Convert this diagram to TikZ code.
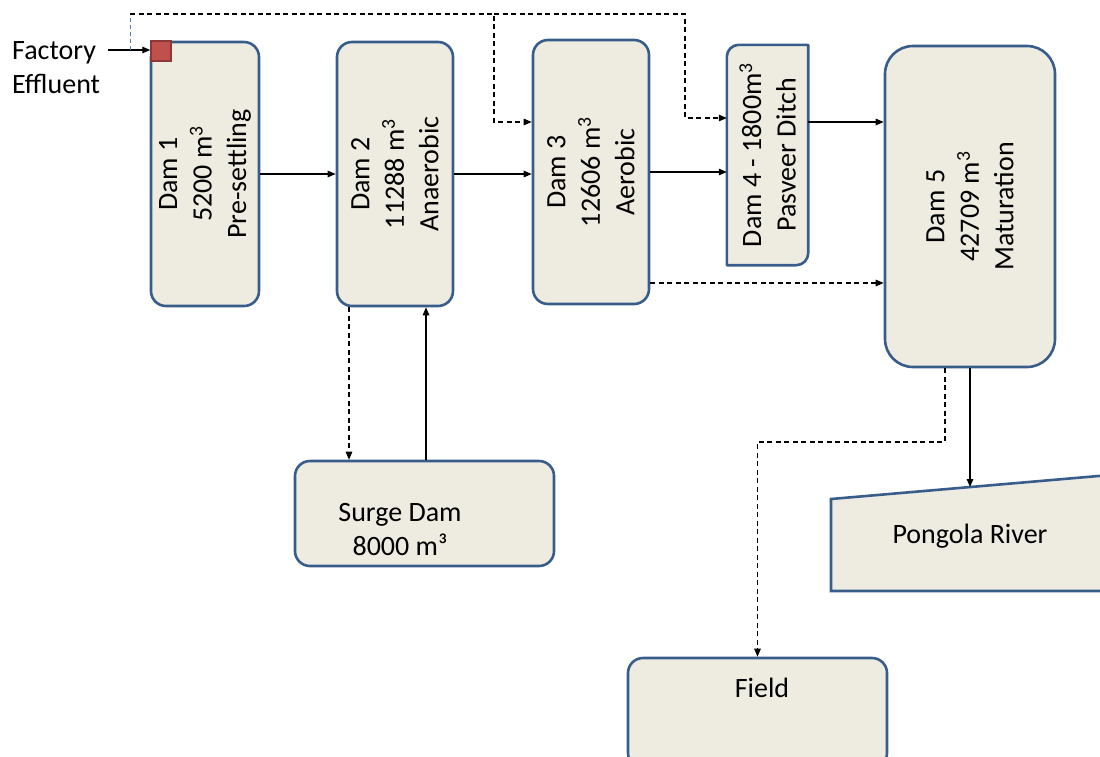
\documentclass[tikz,border=0pt]{standalone}
\usepackage{fontspec}
\setmainfont{Carlito}
\usetikzlibrary{arrows.meta,calc}
\definecolor{boxfill}{RGB}{238,236,225}
\definecolor{boxline}{RGB}{56,93,138}
\definecolor{redfill}{RGB}{192,80,77}
\definecolor{redline}{RGB}{140,56,54}
\definecolor{linkblue}{RGB}{79,129,189}
\begin{document}
\begin{tikzpicture}[x=1pt,y=-1pt,
  dambox/.style={draw=boxline, fill=boxfill, line width=2.6pt, rounded corners=15pt, inner sep=0pt},
  damtext/.style={rotate=90, align=center, inner sep=0pt, font=\fontsize{28}{34.5}\selectfont},
  lbl/.style={align=center, inner sep=0pt, font=\fontsize{28}{34}\selectfont},
  flow/.style={line width=1.2pt, -{Triangle[length=8pt,width=6.5pt]}},
  dflow/.style={flow, dash pattern=on 5pt off 3.5pt}]
\useasboundingbox (0,0) rectangle (1100,756);
\clip (0,0) rectangle (1100,756);

% boxes
\node[dambox, minimum width=108pt, minimum height=264pt] (d1) at (205,174) {};
\node[dambox, minimum width=116pt, minimum height=264pt] (d2) at (395,174) {};
\node[dambox, minimum width=116pt, minimum height=264pt] (d3) at (591,172) {};
\node[minimum width=81pt, minimum height=220pt, inner sep=0pt] (d4) at (767.5,155) {};
\draw[draw=boxline, fill=boxfill, line width=2.6pt, line join=round]
  (d4.north east) -- ([yshift=12pt]d4.south east)
  .. controls ([yshift=5.4pt]d4.south east) and ([xshift=-5.4pt]d4.south east) .. ([xshift=-12pt]d4.south east)
  -- (d4.south west) -- ([yshift=-12pt]d4.north west)
  .. controls ([yshift=-5.4pt]d4.north west) and ([xshift=5.4pt]d4.north west) .. ([xshift=12pt]d4.north west)
  -- cycle;
\node[dambox, rounded corners=28pt, minimum width=170pt, minimum height=321pt] (d5) at (970,206.5) {};
\node[dambox, minimum width=259pt, minimum height=105pt] (sd) at (424.5,513.5) {};
\node[dambox, minimum width=259pt, minimum height=110pt] (f) at (757.5,713) {};
\coordinate (pr0) at (831,499);
\coordinate (pr1) at (1110,475);
\coordinate (pr2) at (1110,591);
\coordinate (pr3) at (831,591);
\draw[draw=boxline, fill=boxfill, line width=2.6pt] (pr0) -- (pr1) -- (pr2) -- (pr3) -- cycle;
\node[draw=redline, fill=redfill, line width=1.5pt, minimum size=20pt, inner sep=0pt] (rs) at (161,51) {};

% texts
\node[damtext] (d1t) at (d1.center) {Dam 1\\5200 m\textsuperscript{3}\\Pre-settling};
\node[damtext] (d2t) at (d2.center) {Dam 2\\11288 m\textsuperscript{3}\\Anaerobic};
\node[damtext] (d3t) at (d3.center) {Dam 3\\12606 m\textsuperscript{3}\\Aerobic};
\node[damtext] (d4t) at (d4.center) {Dam 4 - 1800m\textsuperscript{3}\\Pasveer Ditch};
\node[damtext] (d5t) at (d5.center) {Dam 5\\42709 m\textsuperscript{3}\\Maturation};
\node[lbl] (sdt) at (400,530) {Surge Dam\\8000 m³};
\node[lbl] (prt) at (970,536) {Pongola River};
\node[lbl] (ft) at (762,688) {Field};
\node[lbl, align=left, anchor=west] (fe) at (12,68) {Factory\\Effluent};

% connectors
\coordinate (fa) at (108,50);
\draw[flow] (fa) -- (rs.west |- fa);
\coordinate (j0) at (130,50);
\coordinate (t0) at (130,14);
\coordinate (t1) at (494,14);
\coordinate (t2) at (685,14);
\coordinate (y122) at (0,122);
\coordinate (y118) at (0,118);
\coordinate (y283) at (0,283);
\coordinate (y442) at (0,442);
\coordinate (x349) at (349,0);
\coordinate (x426) at (426,0);
\coordinate (x945) at (945,0);
\coordinate (pr) at (970,487);
\draw[linkblue, line width=1pt, dash pattern=on 4pt off 3pt] (j0) -- (t0);
\draw[dflow] (t0) -- (t1) |- (d3.west |- y122);
\draw[dflow] (t1) -- (t2) |- (d4.west |- y118);
\draw[flow] (d1.east) -- (d2.west);
\draw[flow] (d2.east) -- (d2.east -| d3.west);
\draw[flow] (d3.east) -- (d3.east -| d4.west);
\draw[flow] (d4.east |- y122) -- (d5.west |- y122);
\draw[dflow] (d3.east |- y283) -- (d5.west |- y283);
\draw[dflow] (d2.south -| x349) -- (sd.north -| x349);
\draw[flow] (sd.north -| x426) -- (d2.south -| x426);
\draw[flow] (d5.south) -- (pr);
\draw[dflow] (d5.south -| x945) |- (f.north |- y442) -- (f.north);
\end{tikzpicture}
\end{document}
